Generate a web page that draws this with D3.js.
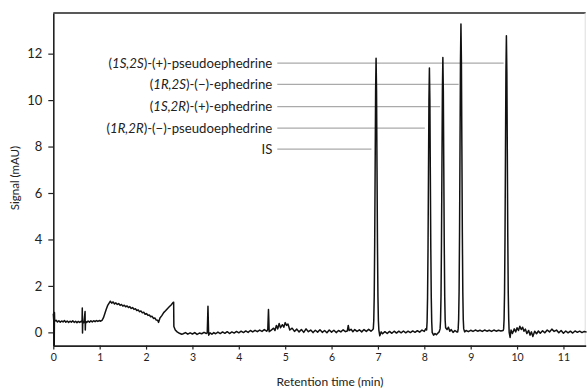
<!DOCTYPE html>
<html>
<head>
<meta charset="utf-8">
<script src="https://cdn.jsdelivr.net/npm/d3@7"></script>
<style>
  body { margin: 0; background: #fff; }
  svg { display: block; font-family: Lato, "Open Sans", sans-serif; }
</style>
</head>
<body>
<svg id="chart" width="587" height="390"></svg>
<script>
// chromatogram trace, [retention time (min), signal (mAU)]
const trace = [
  [0.00, 0.80], [0.01, 0.50], [0.02, -0.55], [0.025, 0.85], [0.03, 0.48], [0.06, 0.52], [0.09, 0.45],
  [0.12, 0.50], [0.15, 0.44], [0.18, 0.49], [0.21, 0.45], [0.24, 0.51], [0.27, 0.44], [0.30, 0.49],
  [0.33, 0.43], [0.36, 0.48], [0.39, 0.44], [0.42, 0.50], [0.45, 0.43], [0.48, 0.48], [0.51, 0.42],
  [0.54, 0.47], [0.57, 0.43], [0.60, 0.48], [0.62, 0.44], [0.625, 1.05], [0.63, -0.03], [0.635, 0.46],
  [0.66, 0.42], [0.685, 0.90], [0.69, 0.10], [0.695, 0.47], [0.72, 0.43], [0.75, 0.49], [0.78, 0.44],
  [0.81, 0.50], [0.84, 0.45], [0.87, 0.50], [0.90, 0.46], [0.93, 0.51], [0.96, 0.47], [0.99, 0.51],
  [1.02, 0.48], [1.05, 0.52], [1.08, 0.62], [1.11, 0.80], [1.14, 0.98], [1.17, 1.15], [1.20, 1.25],
  [1.23, 1.34], [1.26, 1.26], [1.29, 1.31], [1.32, 1.22], [1.35, 1.27], [1.38, 1.20], [1.41, 1.24],
  [1.44, 1.16], [1.47, 1.20], [1.50, 1.13], [1.53, 1.17], [1.56, 1.10], [1.59, 1.14], [1.62, 1.07],
  [1.65, 1.11], [1.68, 1.03], [1.71, 1.07], [1.74, 0.99], [1.77, 1.02], [1.80, 0.94], [1.83, 0.97],
  [1.86, 0.89], [1.89, 0.92], [1.92, 0.84], [1.95, 0.87], [1.98, 0.78], [2.01, 0.81], [2.04, 0.73],
  [2.07, 0.75], [2.10, 0.67], [2.13, 0.69], [2.16, 0.60], [2.19, 0.62], [2.22, 0.53], [2.25, 0.52],
  [2.27, 0.43], [2.30, 0.62], [2.34, 0.72], [2.38, 0.85], [2.42, 0.93], [2.46, 1.02], [2.50, 1.10],
  [2.54, 1.18], [2.58, 1.28], [2.595, 1.30], [2.60, 0.25], [2.63, 0.10], [2.67, 0.02], [2.72, -0.04],
  [2.77, -0.08], [2.80, -0.06], [2.85, -0.01], [2.90, -0.08], [2.95, -0.02], [3.00, -0.07], [3.05, -0.01],
  [3.10, -0.09], [3.15, -0.03], [3.20, -0.06], [3.25, 0.00], [3.30, -0.05], [3.32, -0.02], [3.335, 1.12],
  [3.35, -0.12], [3.38, -0.02], [3.42, -0.08], [3.46, -0.01], [3.50, -0.06], [3.55, 0.01], [3.60, -0.05],
  [3.65, 0.02], [3.70, -0.04], [3.75, 0.03], [3.80, -0.05], [3.85, 0.02], [3.90, -0.03], [3.95, 0.04],
  [4.00, -0.02], [4.05, 0.05], [4.10, -0.01], [4.15, 0.06], [4.20, 0.00], [4.25, 0.08], [4.30, 0.02],
  [4.35, 0.09], [4.40, 0.03], [4.45, 0.10], [4.50, 0.04], [4.55, 0.12], [4.60, 0.05], [4.625, 0.12],
  [4.64, 0.98], [4.655, 0.03], [4.70, 0.10], [4.75, 0.18], [4.78, 0.08], [4.81, 0.30], [4.84, 0.15],
  [4.87, 0.38], [4.90, 0.20], [4.94, 0.33], [4.97, 0.22], [5.00, 0.42], [5.03, 0.30], [5.06, 0.36],
  [5.10, 0.10], [5.15, 0.18], [5.20, 0.04], [5.25, 0.14], [5.30, 0.02], [5.35, 0.12], [5.40, 0.00],
  [5.45, 0.15], [5.50, 0.03], [5.55, 0.10], [5.60, -0.01], [5.65, 0.09], [5.70, 0.01], [5.75, 0.11],
  [5.80, 0.00], [5.85, 0.08], [5.90, -0.02], [5.95, 0.10], [6.00, 0.01], [6.05, 0.09], [6.10, -0.01],
  [6.15, 0.08], [6.20, 0.02], [6.25, 0.11], [6.30, 0.03], [6.34, 0.06], [6.36, 0.30], [6.38, 0.08],
  [6.42, 0.13], [6.46, 0.03], [6.50, 0.12], [6.55, 0.04], [6.60, 0.11], [6.65, 0.02], [6.70, 0.12],
  [6.75, 0.04], [6.80, 0.13], [6.85, 0.05], [6.88, 0.10],
  // IS
  [6.90, 0.15], [6.91, 0.50], [6.92, 1.55], [6.93, 3.8], [6.94, 7.1], [6.95, 10.4], [6.96, 11.8],
  [6.97, 10.4], [6.98, 7.1], [6.99, 3.8], [7.00, 1.55], [7.01, 0.50], [7.02, 0.10], [7.04, -0.15],
  [7.07, 0.02], [7.10, -0.06], [7.15, 0.03], [7.20, -0.05], [7.25, 0.04], [7.30, -0.04], [7.35, 0.05],
  [7.40, -0.03], [7.45, 0.05], [7.50, -0.02], [7.55, 0.06], [7.60, -0.02], [7.65, 0.05], [7.70, -0.01],
  [7.75, 0.06], [7.80, 0.00], [7.85, 0.07], [7.90, 0.01], [7.95, 0.10], [8.00, 0.04], [8.03, 0.15],
  // (1R,2R)-(-)-pseudoephedrine
  [8.05, 0.10], [8.06, 0.45], [8.07, 1.5], [8.08, 3.6], [8.09, 6.8], [8.10, 10.0], [8.11, 11.38],
  [8.12, 10.0], [8.13, 6.8], [8.14, 3.6], [8.15, 1.5], [8.16, 0.45], [8.17, 0.00], [8.20, -0.12],
  [8.23, -0.05], [8.26, -0.10], [8.29, -0.04], [8.32, 0.02],
  // (1S,2R)-(+)-ephedrine
  [8.34, 0.15], [8.35, 0.50], [8.36, 1.55], [8.37, 3.8], [8.38, 7.1], [8.39, 10.4], [8.40, 11.83],
  [8.41, 10.4], [8.42, 7.1], [8.43, 3.8], [8.44, 1.55], [8.45, 0.50], [8.46, 0.20], [8.49, 0.12],
  [8.52, 0.22], [8.55, 0.05], [8.58, 0.12], [8.62, 0.00], [8.66, 0.08], [8.70, 0.02],
  // (1R,2S)-(-)-ephedrine
  [8.72, 0.02], [8.73, 0.15], [8.74, 0.55], [8.75, 1.75], [8.76, 4.3], [8.77, 8.0], [8.78, 11.7],
  [8.79, 13.28], [8.80, 11.7], [8.81, 8.0], [8.82, 4.3], [8.83, 1.75], [8.84, 0.55], [8.85, 0.15],
  [8.87, 0.02], [8.90, 0.08], [8.95, 0.03], [9.00, 0.09], [9.05, 0.04], [9.10, 0.10], [9.15, 0.05],
  [9.20, 0.09], [9.25, 0.04], [9.30, 0.10], [9.35, 0.05], [9.40, 0.09], [9.45, 0.04], [9.50, 0.10],
  [9.55, 0.05], [9.60, 0.09], [9.65, 0.06], [9.70, 0.08],
  // (1S,2S)-(+)-pseudoephedrine
  [9.71, 0.15], [9.72, 0.55], [9.73, 1.7], [9.74, 4.1], [9.75, 7.7], [9.76, 11.2], [9.77, 12.77],
  [9.78, 11.2], [9.79, 7.7], [9.80, 4.1], [9.81, 1.7], [9.82, 0.55], [9.83, 0.00], [9.85, -0.22],
  [9.87, 0.10], [9.90, -0.05], [9.94, 0.15], [9.97, 0.02], [10.00, 0.20], [10.03, 0.08], [10.06, 0.26],
  [10.09, 0.12], [10.12, 0.22], [10.15, 0.05], [10.18, 0.14], [10.21, -0.05], [10.25, 0.08], [10.28, -0.12],
  [10.31, 0.02], [10.34, -0.18], [10.38, 0.05], [10.42, -0.06], [10.46, 0.06], [10.50, -0.04], [10.55, 0.07],
  [10.60, -0.02], [10.65, 0.10], [10.70, 0.02], [10.75, 0.14], [10.80, 0.04], [10.85, 0.10], [10.90, -0.02],
  [10.95, 0.08], [11.00, -0.04], [11.05, 0.06], [11.10, -0.02], [11.15, 0.05], [11.20, -0.03], [11.25, 0.06],
  [11.30, 0.00], [11.35, 0.05], [11.40, -0.01], [11.45, 0.04], [11.50, 0.01]
];

// peak annotations, top to bottom
const peakNames = [
  "(1S,2S)-(+)-pseudoephedrine",
  "(1R,2S)-(\u2212)-ephedrine",
  "(1S,2R)-(+)-ephedrine",
  "(1R,2R)-(\u2212)-pseudoephedrine",
  "IS"
];
const labelLevels = [11.59, 10.68, 9.72, 8.79, 7.89];
const lineStarts = [4.83, 4.83, 4.83, 4.83, 4.83];
const lineEnds = [9.71, 8.74, 8.34, 8.01, 6.86];

const xTicks = [0, 1, 2, 3, 4, 5, 6, 7, 8, 9, 10, 11];
const yTicks = [0, 2, 4, 6, 8, 10, 12];

const width = 587, height = 390;
const margin = { top: 13, right: 1.3, bottom: 44.4, left: 53.3 };

const svg = d3.select("#chart");

const x = d3.scaleLinear().domain([0, 11.48]).range([margin.left, width - margin.right]);
const y = d3.scaleLinear().domain([-0.57, 13.75]).range([height - margin.bottom, margin.top]);

// frame: dark top, faint right
svg.append("line")
  .attr("x1", margin.left).attr("x2", width - margin.right)
  .attr("y1", margin.top).attr("y2", margin.top)
  .attr("stroke", "#222").attr("stroke-width", 1.6);
svg.append("line")
  .attr("x1", width - margin.right - 0.5).attr("x2", width - margin.right - 0.5)
  .attr("y1", margin.top).attr("y2", height - margin.bottom)
  .attr("stroke", "#ddd").attr("stroke-width", 1);

// axes
const xAxis = svg.append("g")
  .attr("transform", `translate(0,${height - margin.bottom})`)
  .call(d3.axisBottom(x).tickValues(xTicks).tickSize(4).tickPadding(4).tickSizeOuter(0));
const yAxis = svg.append("g")
  .attr("transform", `translate(${margin.left},0)`)
  .call(d3.axisLeft(y).tickValues(yTicks).tickSize(5).tickPadding(6).tickSizeOuter(0));

[xAxis, yAxis].forEach(g => {
  g.select(".domain").attr("stroke", "#222").attr("stroke-width", 1.6);
  g.selectAll(".tick line").attr("stroke", "#222").attr("stroke-width", 1.2);
  g.selectAll(".tick text").attr("fill", "#222").attr("font-family", "Lato, sans-serif");
});
xAxis.selectAll(".tick text").attr("font-size", 10.5);
yAxis.selectAll(".tick text").attr("font-size", 13);

// annotation leader lines
svg.append("g").selectAll("line")
  .data(peakNames)
  .join("line")
  .attr("x1", (d, i) => x(lineStarts[i]))
  .attr("x2", (d, i) => x(lineEnds[i]))
  .attr("y1", (d, i) => y(labelLevels[i]))
  .attr("y2", (d, i) => y(labelLevels[i]))
  .attr("stroke", "#aaa")
  .attr("stroke-width", 1.2);

// trace
const line = d3.line()
  .x(d => x(d[0]))
  .y(d => y(d[1]));

svg.append("path")
  .datum(trace)
  .attr("d", line)
  .attr("fill", "none")
  .attr("stroke", "#111")
  .attr("stroke-width", 1.5)
  .attr("stroke-linejoin", "round");

// annotation labels, stereo descriptors in italics
const labels = svg.append("g").selectAll("text")
  .data(peakNames)
  .join("text")
  .attr("x", (d, i) => x(lineStarts[i]) - 5)
  .attr("y", (d, i) => y(labelLevels[i]) + 4.5)
  .attr("text-anchor", "end")
  .attr("font-size", 13.2)
  .attr("fill", "#222");

labels.each(function (d) {
  const t = d3.select(this);
  const m = d.match(/^\((.+?)\)(.*)$/);
  if (!m) {
    t.text(d);
    return;
  }
  t.append("tspan").text("(");
  t.append("tspan").attr("font-style", "italic").text(m[1]);
  t.append("tspan").text(")" + m[2]);
});

// axis titles
svg.append("text")
  .attr("x", 330)
  .attr("y", 386)
  .attr("text-anchor", "middle")
  .attr("font-size", 12)
  .attr("fill", "#222")
  .text("Retention time (min)");

svg.append("text")
  .attr("transform", "translate(19,178) rotate(-90)")
  .attr("text-anchor", "middle")
  .attr("font-size", 11.5)
  .attr("fill", "#222")
  .text("Signal (mAU)");
</script>
</body>
</html>
